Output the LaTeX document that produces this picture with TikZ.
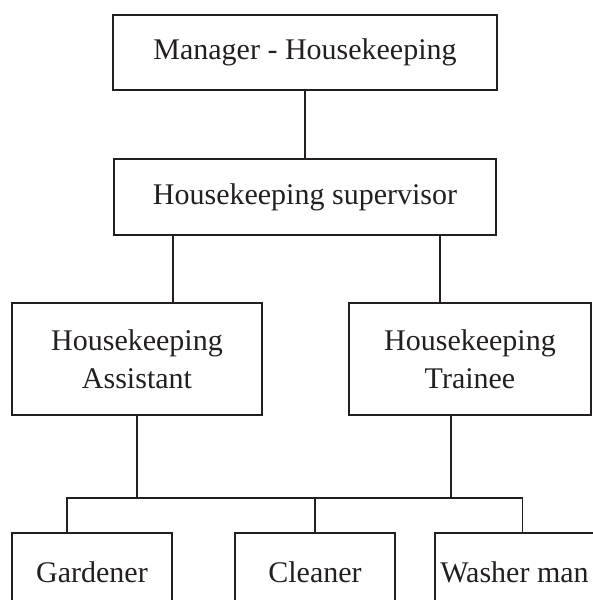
\documentclass[tikz,border=0pt]{standalone}
\usepackage{fontspec}
\setmainfont{Liberation Serif}
\definecolor{ink}{HTML}{231F20}
\tikzset{post/.style={draw=ink, line width=1.8pt, rectangle, align=center, text=ink,
  font=\fontsize{30}{38}\selectfont, inner sep=0pt},
  link/.style={draw=ink, line width=1.8pt}}

\begin{document}
\begin{tikzpicture}[x=1pt, y=-1pt]
        \useasboundingbox (0,0) rectangle (593,600);
        \clip (0,0) rectangle (593,600);
        \node[post, minimum width=384pt, minimum height=75pt] (mgr) at (305,52.5) {Manager - Housekeeping};
        \node[post, minimum width=382pt, minimum height=76pt] (sup) at (305,197) {Housekeeping supervisor};
        \node[post, minimum width=250pt, minimum height=112pt] (asst) at (137,359) {Housekeeping\\Assistant};
        \node[post, minimum width=242pt, minimum height=112pt] (trn) at (470,359) {Housekeeping\\Trainee};
        \node[post, minimum width=160pt, minimum height=78pt] (gard) at (92,572) {Gardener};
        \node[post, minimum width=160pt, minimum height=78pt] (clean) at (315,572) {Cleaner};
        \node[post, minimum width=159pt, minimum height=78pt] (wash) at (514.5,572) {Washer man};
        \coordinate (bus) at (0,498);
        % upper levels
        \draw[link] (mgr.south) -- (sup.north);
        \draw[link] ([xshift=60pt]sup.south west) -- ([xshift=60pt]sup.south west |- asst.north);
        \draw[link] ([xshift=-57pt]sup.south east) -- ([xshift=-57pt]sup.south east |- trn.north);
        % lower level
        \draw[link] (asst.south) -- (asst.south |- bus);
        \draw[link] ([xshift=-19pt]trn.south) -- ([xshift=-19pt]trn.south |- bus);
        \draw[link] ([xshift=-25pt]gard.north) |- ([xshift=8pt]wash.north |- bus) -- ([xshift=8pt]wash.north);
        \draw[link] (clean.north) -- (clean.north |- bus);
\end{tikzpicture}
\end{document}
